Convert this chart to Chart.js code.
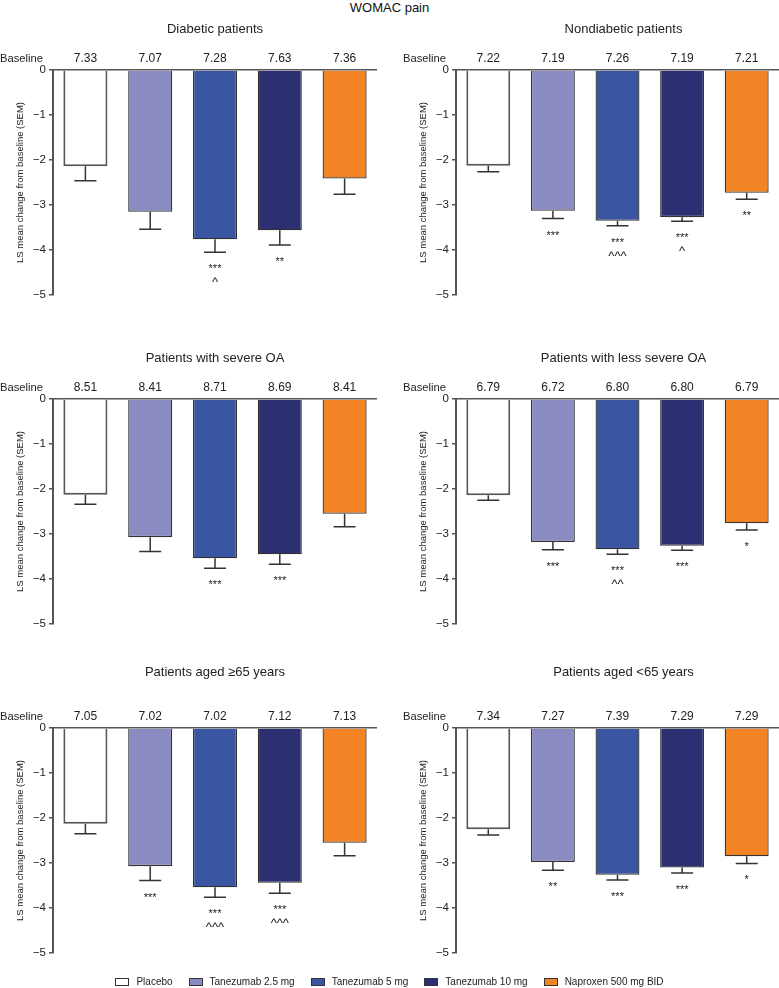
<!DOCTYPE html>
<html>
<head>
<meta charset="utf-8">
<script src="https://cdn.jsdelivr.net/npm/chart.js@4.4.0/dist/chart.umd.min.js"></script>
<style>
  body { margin: 0; background: #fff; font-family: "Liberation Sans", Arial, sans-serif; }
  #page { position: relative; width: 779px; height: 988px; overflow: hidden; }
  .panel { position: absolute; }
  #title { position: absolute; left: 0; top: 1px; width: 779px; text-align: center; font-size: 13px; line-height: 14px; color: #111; }
  #legend { position: absolute; left: 0; top: 975px; width: 779px; display: flex; justify-content: center; font-size: 10px; line-height: 14px; color: #222; }
  #legend .item { display: flex; align-items: center; margin: 0 8px; }
  #legend .box { width: 12px; height: 6px; border: 1px solid #333; margin-right: 7px; }
</style>
</head>
<body>
<div id="page">
  <div id="title">WOMAC pain</div>
  <div id="legend"></div>
</div>
<script>
// treatment groups (one bar each)
const treatments = ['Placebo', 'Tanezumab 2.5 mg', 'Tanezumab 5 mg', 'Tanezumab 10 mg', 'Naproxen 500 mg BID'];

const panelTitles = [
  'Diabetic patients', 'Nondiabetic patients',
  'Patients with severe OA', 'Patients with less severe OA',
  'Patients aged \u226565 years', 'Patients aged <65 years'
];

// baseline WOMAC pain per panel
const baselineValues = [
  [7.33, 7.07, 7.28, 7.63, 7.36],
  [7.22, 7.19, 7.26, 7.19, 7.21],
  [8.51, 8.41, 8.71, 8.69, 8.41],
  [6.79, 6.72, 6.80, 6.80, 6.79],
  [7.05, 7.02, 7.02, 7.12, 7.13],
  [7.34, 7.27, 7.39, 7.29, 7.29]
];

// LS mean change from baseline
const lsMeanChange = [
  [-2.14, -3.15, -3.76, -3.56, -2.41],
  [-2.13, -3.13, -3.35, -3.27, -2.73],
  [-2.13, -3.07, -3.54, -3.45, -2.55],
  [-2.14, -3.18, -3.34, -3.26, -2.76],
  [-2.13, -3.07, -3.54, -3.44, -2.55],
  [-2.25, -2.98, -3.26, -3.10, -2.85]
];

// SEM
const semValues = [
  [0.32, 0.39, 0.29, 0.33, 0.35],
  [0.13, 0.17, 0.11, 0.09, 0.14],
  [0.21, 0.32, 0.22, 0.22, 0.29],
  [0.11, 0.17, 0.11, 0.10, 0.15],
  [0.22, 0.32, 0.22, 0.23, 0.29],
  [0.13, 0.18, 0.12, 0.12, 0.16]
];

// significance vs placebo
const starLabels = [
  ['', '', '***', '**', ''],
  ['', '***', '***', '***', '**'],
  ['', '', '***', '***', ''],
  ['', '***', '***', '***', '*'],
  ['', '***', '***', '***', ''],
  ['', '**', '***', '***', '*']
];

// significance vs naproxen
const caretLabels = [
  ['', '', '^', '', ''],
  ['', '', '^^^', '^', ''],
  ['', '', '', '', ''],
  ['', '', '^^', '', ''],
  ['', '', '^^^', '^^^', ''],
  ['', '', '', '', '']
];

const barColors = ['#ffffff', '#8a8bc1', '#3a56a3', '#2c2f72', '#f28425'];
const barBorders = ['#555555', '#333333', '#333333', '#333333', '#333333'];
const barBorderWidths = [2, 1.3, 1.3, 1.3, 1.3];

const FONT = '"Liberation Sans", Arial, sans-serif';
Chart.defaults.font.family = FONT;
Chart.defaults.color = '#222';

// legend
const legendEl = document.getElementById('legend');
treatments.forEach((t, i) => {
  const item = document.createElement('div');
  item.className = 'item';
  item.innerHTML = '<span class="box" style="background:' + barColors[i] + '"></span><span>' + t + '</span>';
  legendEl.appendChild(item);
});

// error bars, baseline row, panel title, significance marks
const panelDecor = {
  id: 'panelDecor',
  afterDatasetsDraw(chart, args, opts) {
    const { ctx, chartArea } = chart;
    const x = chart.scales.x, y = chart.scales.y;
    const p = opts.panel;
    ctx.save();

    ctx.strokeStyle = '#333';
    ctx.lineWidth = 1.5;
    lsMeanChange[p].forEach((m, i) => {
      const cx = x.getPixelForValue(i);
      const y0 = y.getPixelForValue(m);
      const y1 = y.getPixelForValue(m - semValues[p][i]);
      ctx.beginPath();
      ctx.moveTo(cx, y0);
      ctx.lineTo(cx, y1);
      ctx.moveTo(cx - 11, y1);
      ctx.lineTo(cx + 11, y1);
      ctx.stroke();

      ctx.fillStyle = '#222';
      ctx.textAlign = 'center';
      ctx.textBaseline = 'alphabetic';
      ctx.font = '11px ' + FONT;
      if (starLabels[p][i]) ctx.fillText(starLabels[p][i], cx, y1 + 20);
      ctx.font = '13px ' + FONT;
      if (caretLabels[p][i]) ctx.fillText(caretLabels[p][i], cx, y1 + 34);

      ctx.font = '12px ' + FONT;
      ctx.fillText(baselineValues[p][i].toFixed(2), cx, chartArea.top - 8);
    });

    ctx.font = '11.2px ' + FONT;
    ctx.textAlign = 'right';
    ctx.fillText('Baseline', chartArea.left - 10, chartArea.top - 8);

    ctx.font = '13px ' + FONT;
    ctx.textAlign = 'center';
    ctx.fillText(panelTitles[p], opts.titleX, opts.titleY);
    ctx.restore();
  }
};

const page = document.getElementById('page');
panelTitles.forEach((title, p) => {
  const col = p % 2, row = Math.floor(p / 2);
  const w = col ? 389 : 390, h = 329;
  const wrap = document.createElement('div');
  wrap.className = 'panel';
  wrap.style.left = (col * 390) + 'px';
  wrap.style.top = (row * 329) + 'px';
  const canvas = document.createElement('canvas');
  canvas.width = w; canvas.height = h;
  canvas.style.width = w + 'px'; canvas.style.height = h + 'px';
  wrap.appendChild(canvas);
  page.insertBefore(wrap, legendEl);

  new Chart(canvas, {
    type: 'bar',
    data: {
      labels: treatments,
      datasets: [{
        data: lsMeanChange[p],
        backgroundColor: barColors,
        borderColor: barBorders,
        borderWidth: barBorderWidths,
        barPercentage: 0.68,
        categoryPercentage: 1
      }]
    },
    options: {
      responsive: false,
      animation: false,
      layout: { padding: { left: col ? 13 : 0, right: col ? 0 : 13, top: 70, bottom: 34 } },
      plugins: {
        legend: { display: false },
        tooltip: { enabled: false },
        panelDecor: { panel: p, titleX: col ? 233.5 : 215, titleY: row === 2 ? 18 : 33 }
      },
      scales: {
        x: { display: false },
        y: {
          min: -5,
          max: 0,
          afterFit(s) { s.width = 53; },
          border: { color: '#555', width: 2 },
          grid: {
            color: c => c.tick.value === 0 ? '#555' : 'rgba(0,0,0,0)',
            tickColor: '#555',
            tickLength: 4,
            lineWidth: 1.5
          },
          ticks: {
            stepSize: 1,
            padding: 3,
            color: '#222',
            font: { size: 11.5 },
            callback: v => v === 0 ? '0' : '\u2212' + Math.abs(v)
          },
          title: {
            display: true,
            text: 'LS mean change from baseline (SEM)',
            color: '#222',
            font: { size: 9.5 },
            padding: { top: 15 }
          }
        }
      }
    },
    plugins: [panelDecor]
  });
});
</script>
</body>
</html>
